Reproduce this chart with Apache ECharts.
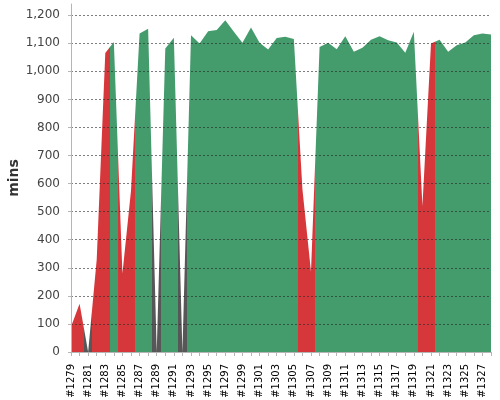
<!DOCTYPE html>
<html>
<head>
<meta charset="utf-8">
<script src="https://cdn.jsdelivr.net/npm/echarts@6/dist/echarts.min.js"></script>
<style>
  html, body { margin: 0; padding: 0; background: #fff; }
  #chart { width: 500px; height: 400px; }
</style>
</head>
<body>
<div id="chart"></div>
<script>
// build numbers on the x axis
const builds = [];
for (let n = 1279; n <= 1328; n++) builds.push('#' + n);

// build duration in minutes
const durations = [
  90, 172, 0, 330, 1065, 1105, 280, 575, 1135, 1152,
  0, 1081, 1120, 0, 1129, 1099, 1143, 1147, 1182, 1141,
  1102, 1156, 1102, 1078, 1119, 1123, 1115, 580, 286, 1087,
  1102, 1079, 1125, 1070, 1084, 1113, 1125, 1111, 1103, 1066,
  1141, 520, 1099, 1113, 1070, 1093, 1103, 1129, 1135, 1131
];

// F = failed, S = success, A = aborted
const statuses = [
  'F', 'F', 'A', 'F', 'F', 'S', 'F', 'F', 'S', 'S',
  'A', 'S', 'S', 'A', 'S', 'S', 'S', 'S', 'S', 'S',
  'S', 'S', 'S', 'S', 'S', 'S', 'S', 'F', 'F', 'S',
  'S', 'S', 'S', 'S', 'S', 'S', 'S', 'S', 'S', 'S',
  'S', 'F', 'F', 'S', 'S', 'S', 'S', 'S', 'S', 'S'
];

const yTicks = [0, 100, 200, 300, 400, 500, 600, 700, 800, 900, 1000, 1100, 1200];

const statusColor = { F: '#d6373b', S: '#449b6c', A: '#575757' };

// each build colours the band half way to its neighbours
const pieces = [];
statuses.forEach(function (s, i) {
  const last = pieces[pieces.length - 1];
  if (last && last.status === s) {
    last.lte = i + 0.5;
  } else {
    pieces.push({ status: s, gt: i - 0.5, lte: i + 0.5, color: statusColor[s] });
  }
});
pieces[0].gt = -1;
pieces[pieces.length - 1].lte = builds.length;

const chart = echarts.init(document.getElementById('chart'));
chart.setOption({
  animation: false,
  textStyle: { fontFamily: 'DejaVu Sans' },
  grid: { left: 71, right: 9, top: 4, bottom: 48, containLabel: false, outerBoundsMode: 'none' },
  visualMap: {
    type: 'piecewise',
    show: false,
    dimension: 0,
    seriesIndex: 0,
    pieces: pieces.map(function (p) { return { gt: p.gt, lte: p.lte, color: p.color }; })
  },
  xAxis: {
    type: 'value',
    min: 0,
    max: builds.length - 1,
    interval: 1,
    offset: 5,
    axisLine: { show: true, lineStyle: { color: '#b5b5b5' } },
    axisTick: { show: true, length: 4, lineStyle: { color: '#b5b5b5' } },
    splitLine: { show: false },
    axisLabel: {
      rotate: 90,
      fontSize: 10,
      color: '#000',
      margin: 7,
      showMinLabel: true,
      showMaxLabel: true,
      formatter: function (v) { return v % 2 === 0 ? builds[v] : ''; }
    }
  },
  yAxis: {
    type: 'value',
    min: 0,
    max: 1240,
    interval: 100,
    offset: 4,
    name: 'mins',
    nameLocation: 'middle',
    nameGap: 46,
    nameMoveOverlap: false,
    nameTextStyle: { fontSize: 14, fontWeight: 'bold', color: '#333' },
    axisLine: { show: true, lineStyle: { color: '#b5b5b5' } },
    axisTick: { show: true, length: 3, lineStyle: { color: '#b5b5b5' } },
    axisLabel: {
      fontSize: 12,
      color: '#444',
      margin: 7,
      showMaxLabel: false,
      formatter: function (v) { return yTicks.indexOf(v) >= 0 ? v.toLocaleString('en-US') : ''; }
    },
    splitLine: {
      show: true,
      showMaxLine: false,
      lineStyle: { color: 'rgba(40,40,40,0.6)', type: [2, 2], width: 1 }
    }
  },
  series: [{
    type: 'line',
    z: -1,
    data: durations.map(function (v, i) { return [i, v]; }),
    showSymbol: false,
    symbol: 'none',
    lineStyle: { width: 0 },
    areaStyle: { opacity: 1 }
  }]
});
</script>
</body>
</html>
